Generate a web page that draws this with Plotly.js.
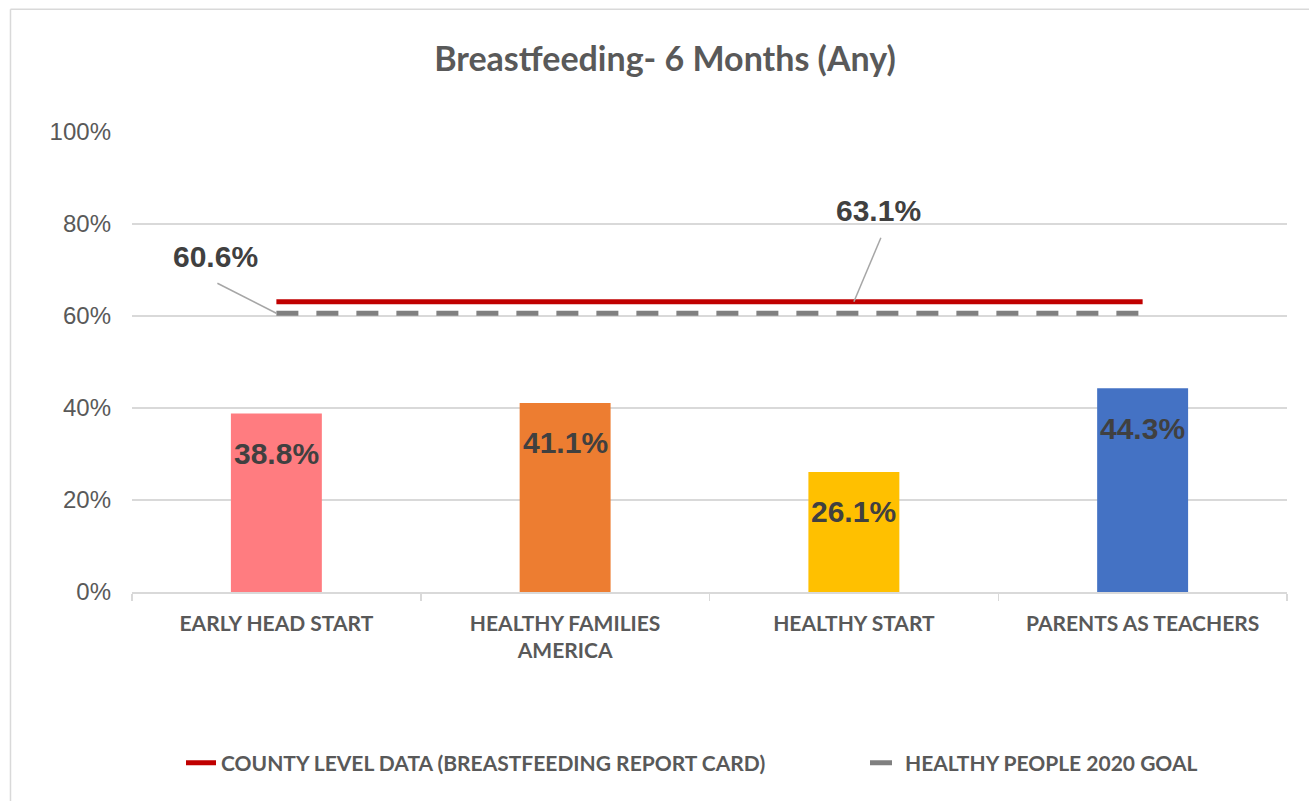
<!DOCTYPE html>
<html>
<head>
<meta charset="utf-8">
<script src="https://cdn.plot.ly/plotly-3.0.1.min.js"></script>
<style>
html,body{margin:0;padding:0;background:#fff;}
#chart{width:1309px;height:801px;}
</style>
</head>
<body>
<div id="chart"></div>
<script>
// ---- data ----
var categories = ["EARLY HEAD START", "HEALTHY FAMILIES<br>AMERICA", "HEALTHY START", "PARENTS AS TEACHERS"];
var programValues = [38.8, 41.1, 26.1, 44.3];
var barColors = ["#FF7C80", "#ED7D31", "#FFC000", "#4472C4"];
var countyValue = 63.1;
var goalValue = 60.6;
var countyName = "COUNTY LEVEL DATA (BREASTFEEDING REPORT CARD)";
var goalName = "HEALTHY PEOPLE 2020 GOAL";
var yTicks = [0, 20, 40, 60, 80, 100];
var yTickLabels = ["0%", "20%", "40%", "60%", "80%", "100%"];
var titleText = "Breastfeeding- 6 Months (Any)";

function pct(v){ return v.toFixed(1) + "%"; }

var countySeries = categories.map(function(){ return countyValue; });
var goalSeries = categories.map(function(){ return goalValue; });

var labelFont = {family: "Liberation Sans Narrow, Arial Narrow, Liberation Sans, Arial, sans-serif", size: 30, color: "#404040", weight: 700};
var catFont = {family: "Lato, Open Sans, sans-serif", size: 21, color: "#595959", weight: 700};

var traces = [
  {
    type: "bar",
    x: categories,
    y: programValues,
    marker: {color: barColors},
    showlegend: false,
    hoverinfo: "x+y"
  },
  {
    type: "scatter",
    mode: "lines",
    x: categories,
    y: countySeries,
    name: countyName,
    legend: "legend",
    line: {color: "#C00000", width: 5}
  },
  {
    type: "scatter",
    mode: "lines",
    x: categories,
    y: goalSeries,
    name: goalName,
    legend: "legend2",
    line: {color: "#808080", width: 5, dash: "22px,18px"}
  }
];

var annotations = programValues.map(function(v, i){
  return {
    x: categories[i], y: v, xref: "x", yref: "y",
    text: "<b>" + pct(v) + "</b>", showarrow: false,
    yanchor: "middle", yshift: -40,
    font: labelFont
  };
});
annotations.push({
  x: categories[0], y: goalValue, xref: "x", yref: "y",
  text: "<b>" + pct(goalValue) + "</b>", showarrow: false,
  xshift: -61, yshift: 57, font: labelFont
});
annotations.push({
  x: categories[2], y: countyValue, xref: "x", yref: "y",
  text: "<b>" + pct(countyValue) + "</b>", showarrow: false,
  xshift: 25, yshift: 91, font: labelFont
});

var shapes = [
  // leader lines
  {type: "line", xref: "x", yref: "y", xsizemode: "pixel", ysizemode: "pixel",
   xanchor: categories[0], yanchor: goalValue, x0: -59, y0: 30, x1: 0, y1: 0,
   line: {color: "#A6A6A6", width: 1.5}},
  {type: "line", xref: "x", yref: "y", xsizemode: "pixel", ysizemode: "pixel",
   xanchor: categories[2], yanchor: countyValue, x0: 27, y0: 64, x1: 0, y1: 0,
   line: {color: "#A6A6A6", width: 1.5}},
  // outer chart frame
  {type: "line", xref: "paper", yref: "paper", x0: -0.1052, x1: -0.1052, y0: 1.2667, y1: -0.5,
   line: {color: "#D9D9D9", width: 1.5}},
  {type: "line", xref: "paper", yref: "paper", x0: -0.1052, x1: 1.1, y0: 1.2667, y1: 1.2667,
   line: {color: "#D9D9D9", width: 1.5}}
];

var layout = {
  width: 1309, height: 801,
  margin: {l: 132, r: 22, t: 132, b: 209, autoexpand: false},
  paper_bgcolor: "#fff", plot_bgcolor: "#fff",
  title: {
    text: "<b>" + titleText + "</b>",
    xref: "container", yref: "container",
    x: 665/1309, y: 1 - 59/801, xanchor: "center", yanchor: "middle",
    font: {family: "Lato, Open Sans, sans-serif", size: 34, color: "#595959"}
  },
  bargap: 0.685,
  xaxis: {
    type: "category",
    showline: true, linecolor: "#D9D9D9", linewidth: 1.5,
    ticks: "outside", tickson: "boundaries", ticklen: 7, tickcolor: "#D9D9D9", tickwidth: 1.5,
    tickfont: catFont, showgrid: false, zeroline: false,
    ticklabelstandoff: 12,
    fixedrange: true
  },
  yaxis: {
    range: [0, 100],
    tickvals: yTicks, ticktext: yTickLabels,
    showgrid: true, gridcolor: "#D9D9D9", gridwidth: 1.5,
    zeroline: false, showline: false, ticks: "",
    tickfont: {family: "Liberation Sans, Arial, sans-serif", size: 24, color: "#595959"},
    ticklabelstandoff: 20,
    fixedrange: true
  },
  showlegend: true,
  legend: {
    orientation: "h",
    x: (181 - 132)/1155, xanchor: "left",
    y: (592 - 763)/460, yanchor: "middle",
    font: catFont,
    bgcolor: "rgba(0,0,0,0)"
  },
  legend2: {
    orientation: "h",
    x: (865 - 132)/1155, xanchor: "left",
    y: (592 - 763)/460, yanchor: "middle",
    font: catFont,
    bgcolor: "rgba(0,0,0,0)"
  },
  annotations: annotations,
  shapes: shapes
};

Plotly.newPlot("chart", traces, layout, {displayModeBar: false, staticPlot: true});
</script>
</body>
</html>
